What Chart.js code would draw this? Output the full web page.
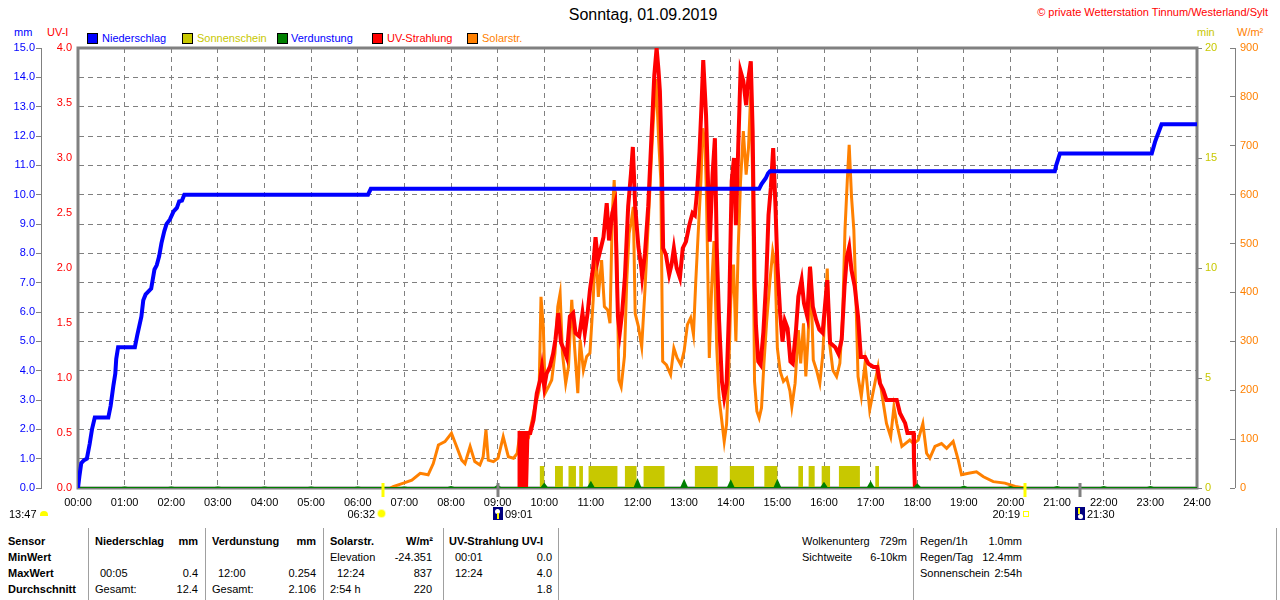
<!DOCTYPE html>
<html>
<head>
<meta charset="utf-8">
<script src="https://cdn.jsdelivr.net/npm/chart.js@4.4.1/dist/chart.umd.min.js"></script>
<style>
  html, body { margin: 0; padding: 0; background: #fff; }
  body { width: 1280px; height: 600px; position: relative; overflow: hidden;
         font-family: 'Liberation Sans', Arial, sans-serif; font-size: 11px; color: #000; }
  #wrap { position: absolute; left: 0; top: 0; width: 1280px; height: 520px; }
  .t { position: absolute; white-space: nowrap; line-height: 14px; }
  .b { font-weight: bold; }
  .sq { position: absolute; top: 33px; width: 9px; height: 9px; border: 1px solid #000; }
  .vl { position: absolute; top: 528px; height: 72px; width: 1px; background: #a0a0a0; }
  .ic { position: absolute; }
</style>
</head>
<body>
<!-- Kopfzeile -->
<div class="t" style="left:0;width:1286px;text-align:center;top:6px;font-size:16px;line-height:18px;">Sonntag, 01.09.2019</div>
<div class="t" style="right:12px;top:5px;color:#f00;">© private Wetterstation Tinnum/Westerland/Sylt</div>

<!-- Achsentitel -->
<div class="t" style="left:14px;top:25px;color:#00f;">mm</div>
<div class="t" style="left:47px;top:25px;color:#f00;">UV-I</div>
<div class="t" style="left:1197px;top:25px;color:#c8c800;">min</div>
<div class="t" style="left:1237px;top:25px;color:#ff8000;">W/m²</div>

<!-- Legende -->
<div class="sq" style="left:87px;background:#00f;"></div>
<div class="t" style="left:102px;top:31px;color:#00f;">Niederschlag</div>
<div class="sq" style="left:182px;background:#c8c800;"></div>
<div class="t" style="left:197px;top:31px;color:#c8c800;">Sonnenschein</div>
<div class="sq" style="left:277px;background:#008000;"></div>
<div class="t" style="left:291px;top:31px;color:#00f;">Verdunstung</div>
<div class="sq" style="left:372px;background:#f00;"></div>
<div class="t" style="left:387px;top:31px;color:#f00;">UV-Strahlung</div>
<div class="sq" style="left:467px;background:#ff8000;"></div>
<div class="t" style="left:482px;top:31px;color:#ff8000;">Solarstr.</div>

<div id="wrap"><canvas id="wetter" width="1280" height="520"></canvas></div>

<!-- Sonne / Mond unter der Zeitachse -->
<div class="t" style="left:9px;top:507px;">13:47</div>
<div class="ic" style="left:40px;top:511px;width:8px;height:5px;background:#ffff00;border-radius:4px 4px 0 0;"></div>
<div class="t" style="right:905px;top:507px;">06:32</div>
<div class="ic" style="left:378px;top:510px;width:7px;height:7px;background:#ffff00;border-radius:50%;box-shadow:0 0 0 1px #ffffa0;"></div>
<div class="ic" style="left:493px;top:507px;width:10px;height:13px;background:#000080;"><div style="position:absolute;left:2px;top:2px;width:5px;height:5px;background:#fff;border-radius:50%;"></div><div style="position:absolute;left:4px;top:6px;width:2px;height:6px;background:#ffff00;"></div></div>
<div class="t" style="left:505px;top:507px;">09:01</div>
<div class="t" style="right:260px;top:507px;">20:19</div>
<div class="ic" style="left:1023px;top:511px;width:4px;height:4px;border:1px solid #ffff00;"></div>
<div class="ic" style="left:1075px;top:507px;width:10px;height:13px;background:#000080;"><div style="position:absolute;left:3px;top:1px;width:2px;height:6px;background:#ffff00;"></div><div style="position:absolute;left:3px;top:7px;width:5px;height:5px;background:#fff;border-radius:50%;"></div></div>
<div class="t" style="left:1087px;top:507px;">21:30</div>

<!-- Tabelle -->
<div class="vl" style="left:88px;"></div>
<div class="vl" style="left:205px;"></div>
<div class="vl" style="left:323px;"></div>
<div class="vl" style="left:443px;"></div>
<div class="vl" style="left:558px;"></div>
<div class="vl" style="left:913px;"></div>
<div class="vl" style="left:1276px;"></div>

<div class="t b" style="left:8px;top:534px;">Sensor</div>
<div class="t b" style="left:8px;top:550px;">MinWert</div>
<div class="t b" style="left:8px;top:566px;">MaxWert</div>
<div class="t b" style="left:8px;top:582px;">Durchschnitt</div>

<div class="t b" style="left:95px;top:534px;">Niederschlag</div>
<div class="t b" style="right:1082px;top:534px;">mm</div>
<div class="t" style="left:100px;top:566px;">00:05</div>
<div class="t" style="right:1082px;top:566px;">0.4</div>
<div class="t" style="left:95px;top:582px;">Gesamt:</div>
<div class="t" style="right:1082px;top:582px;">12.4</div>

<div class="t b" style="left:212px;top:534px;">Verdunstung</div>
<div class="t b" style="right:964px;top:534px;">mm</div>
<div class="t" style="left:218px;top:566px;">12:00</div>
<div class="t" style="right:964px;top:566px;">0.254</div>
<div class="t" style="left:212px;top:582px;">Gesamt:</div>
<div class="t" style="right:964px;top:582px;">2.106</div>

<div class="t b" style="left:330px;top:534px;">Solarstr.</div>
<div class="t b" style="right:847px;top:534px;">W/m²</div>
<div class="t" style="left:330px;top:550px;">Elevation</div>
<div class="t" style="right:848px;top:550px;">-24.351</div>
<div class="t" style="left:337px;top:566px;">12:24</div>
<div class="t" style="right:848px;top:566px;">837</div>
<div class="t" style="left:330px;top:582px;">2:54 h</div>
<div class="t" style="right:848px;top:582px;">220</div>

<div class="t b" style="left:449px;top:534px;">UV-Strahlung UV-I</div>
<div class="t" style="left:455px;top:550px;">00:01</div>
<div class="t" style="right:728px;top:550px;">0.0</div>
<div class="t" style="left:455px;top:566px;">12:24</div>
<div class="t" style="right:728px;top:566px;">4.0</div>
<div class="t" style="right:728px;top:582px;">1.8</div>

<div class="t" style="left:802px;top:534px;">Wolkenunterg</div>
<div class="t" style="right:373px;top:534px;">729m</div>
<div class="t" style="left:802px;top:550px;">Sichtweite</div>
<div class="t" style="right:373px;top:550px;">6-10km</div>
<div class="t" style="left:920px;top:534px;">Regen/1h</div>
<div class="t" style="right:258px;top:534px;">1.0mm</div>
<div class="t" style="left:920px;top:550px;">Regen/Tag</div>
<div class="t" style="right:258px;top:550px;">12.4mm</div>
<div class="t" style="left:920px;top:566px;">Sonnenschein</div>
<div class="t" style="right:258px;top:566px;">2:54h</div>

<script>
// ── Zeitachse (Stunden 0..24) ──
const hourLabels = ['00:00','01:00','02:00','03:00','04:00','05:00','06:00','07:00','08:00',
  '09:00','10:00','11:00','12:00','13:00','14:00','15:00','16:00','17:00','18:00','19:00',
  '20:00','21:00','22:00','23:00','24:00'];

// ── Niederschlag, Summe in mm ──
const rainTimes  = [0, 0.03, 0.07, 0.13, 0.19, 0.25, 0.30, 0.36, 0.65, 0.70, 0.76, 0.80, 0.82, 0.86,
  1.22, 1.27, 1.36, 1.40, 1.45, 1.57, 1.64, 1.69, 1.74, 1.79, 1.85, 1.90, 1.97, 2.05, 2.12, 2.17,
  2.23, 2.28, 6.22, 6.28, 14.61, 14.66, 14.75, 14.80, 14.84, 20.95, 20.98, 21.06, 23.03, 23.10,
  23.17, 23.24, 24];
const rainValues = [0, 0.4, 0.85, 0.95, 1.0, 1.5, 2.0, 2.4, 2.4, 2.8, 3.5, 3.9, 4.4, 4.8,
  4.8, 5.2, 5.85, 6.4, 6.6, 6.8, 7.45, 7.6, 7.9, 8.35, 8.75, 9.0, 9.15, 9.43, 9.55, 9.77,
  9.8, 10.0, 10.0, 10.2, 10.2, 10.36, 10.56, 10.73, 10.8, 10.8, 11.0, 11.4, 11.4, 11.8,
  12.1, 12.4, 12.4];

// ── UV-Strahlung, UV-Index ──
const uvTimes  = [9.46, 9.47, 9.52, 9.53, 9.56, 9.57, 9.60, 9.61, 9.63, 9.64, 9.70, 9.77, 9.84,
  9.91, 9.95, 10.00, 10.05, 10.12, 10.19, 10.24, 10.30, 10.36, 10.43, 10.48, 10.55, 10.62, 10.67,
  10.75, 10.82, 10.87, 10.93, 10.98, 11.05, 11.10, 11.15, 11.22, 11.27, 11.34, 11.39, 11.46, 11.52,
  11.58, 11.62, 11.67, 11.73, 11.80, 11.86, 11.90, 11.95, 12.02, 12.08, 12.10, 12.16, 12.23, 12.30,
  12.36, 12.41, 12.45, 12.48, 12.52, 12.55, 12.61, 12.68, 12.73, 12.78, 12.84, 12.91, 12.97, 13.04,
  13.11, 13.18, 13.23, 13.28, 13.33, 13.37, 13.41, 13.47, 13.52, 13.55, 13.61, 13.66, 13.70, 13.75,
  13.81, 13.86, 13.91, 13.97, 14.02, 14.07, 14.11, 14.16, 14.21, 14.27, 14.33, 14.38, 14.43, 14.47,
  14.51, 14.54, 14.59, 14.64, 14.70, 14.76, 14.81, 14.86, 14.91, 14.96, 15.00, 15.06, 15.11, 15.16,
  15.22, 15.28, 15.33, 15.40, 15.45, 15.52, 15.57, 15.64, 15.70, 15.76, 15.83, 15.90, 15.97, 16.02,
  16.07, 16.13, 16.24, 16.31, 16.38, 16.44, 16.49, 16.54, 16.59, 16.66, 16.73, 16.79, 16.88, 16.95,
  17.06, 17.14, 17.20, 17.27, 17.34, 17.56, 17.63, 17.74, 17.79, 17.92, 17.93, 17.95, 18.0];
const uvValues = [0, 0.5, 0.5, 0, 0, 0.5, 0.5, 0, 0, 0.5, 0.5, 0.62, 0.86,
  0.98, 1.10, 0.92, 1.04, 1.10, 1.22, 1.35, 1.59, 1.32, 1.25, 1.19, 1.56, 1.59, 1.41,
  1.38, 1.59, 1.41, 1.59, 1.80, 2.01, 2.28, 2.07, 2.19, 2.28, 2.59, 2.25, 2.50, 2.59,
  1.56, 1.41, 1.59, 1.92, 2.56, 2.86, 3.10, 2.56, 2.19, 2.01, 1.92, 2.13, 2.56, 3.20,
  3.75, 4.0, 3.80, 3.61, 3.00, 2.18, 2.12, 1.94, 2.03, 2.18, 2.00, 1.91, 2.18, 2.24,
  2.39, 2.50, 2.48, 2.70, 3.06, 3.45, 3.89, 3.39, 2.67, 2.24, 2.85, 3.18, 2.18, 1.52,
  0.97, 0.82, 0.94, 1.70, 2.79, 3.00, 2.39, 3.09, 3.79, 3.70, 3.48, 3.73, 3.88, 3.24,
  1.88, 1.48, 1.15, 1.12, 1.42, 1.88, 2.48, 2.73, 3.09, 2.55, 2.03, 1.58, 1.33, 1.52,
  1.45, 1.15, 1.13, 1.44, 1.74, 1.89, 1.68, 1.56, 2.01, 1.65, 1.53, 1.44, 1.41, 1.65,
  1.89, 1.32, 1.28, 1.22, 1.35, 1.83, 2.10, 2.19, 1.98, 1.83, 1.56, 1.19, 1.19, 1.13,
  1.10, 1.10, 0.95, 0.89, 0.80, 0.80, 0.68, 0.59, 0.50, 0.50, 0.25, 0, 0];

// ── Solarstrahlung, W/m² ──
const solarTimes  = [6.70, 6.76, 6.98, 7.16, 7.34, 7.51, 7.62, 7.73, 7.87, 8.01, 8.12, 8.23, 8.30,
  8.41, 8.51, 8.62, 8.69, 8.75, 8.80, 8.91, 9.01, 9.12, 9.23, 9.34, 9.42, 9.48, 9.62, 9.66, 9.80,
  9.89, 9.93, 9.98, 10.02, 10.09, 10.16, 10.23, 10.29, 10.34, 10.39, 10.46, 10.52, 10.59, 10.65,
  10.72, 10.77, 10.84, 10.91, 10.98, 11.05, 11.10, 11.16, 11.23, 11.29, 11.36, 11.41, 11.46, 11.50,
  11.55, 11.60, 11.65, 11.72, 11.77, 11.82, 11.86, 11.91, 11.95, 12.02, 12.09, 12.16, 12.23, 12.30,
  12.35, 12.40, 12.45, 12.50, 12.54, 12.62, 12.71, 12.78, 12.85, 12.93, 13.00, 13.07, 13.14, 13.20,
  13.25, 13.30, 13.36, 13.40, 13.45, 13.48, 13.54, 13.59, 13.64, 13.70, 13.75, 13.81, 13.86, 13.91,
  13.95, 14.00, 14.06, 14.11, 14.16, 14.21, 14.27, 14.33, 14.38, 14.43, 14.47, 14.51, 14.56, 14.61,
  14.66, 14.71, 14.77, 14.84, 14.90, 14.95, 15.00, 15.06, 15.13, 15.20, 15.27, 15.31, 15.38, 15.45,
  15.50, 15.56, 15.61, 15.66, 15.71, 15.77, 15.84, 15.91, 15.97, 16.02, 16.07, 16.12, 16.19, 16.27,
  16.34, 16.40, 16.45, 16.50, 16.54, 16.59, 16.64, 16.68, 16.73, 16.80, 16.88, 16.98, 17.09, 17.16,
  17.25, 17.34, 17.43, 17.50, 17.56, 17.67, 17.84, 17.92, 18.02, 18.12, 18.20, 18.27, 18.38, 18.52,
  18.63, 18.77, 18.88, 18.95, 19.10, 19.27, 19.42, 19.63, 19.88, 20.10, 20.30];
const solarValues = [0, 3, 10, 16, 30, 27, 50, 88, 95, 112, 85, 57, 50,
  85, 54, 47, 64, 119, 57, 54, 61, 105, 64, 61, 71, 112, 98, 102, 166,
  200, 391, 330, 194, 207, 221, 276, 371, 398, 276, 214, 248, 385, 289,
  194, 303, 241, 269, 276, 385, 500, 391, 466, 371, 364, 337, 562, 630,
  507, 221, 207, 269, 425, 521, 541, 575, 357, 330, 289, 405, 541, 678,
  770, 837, 719, 630, 259, 252, 232, 286, 266, 252, 280, 334, 348, 314,
  423, 518, 627, 736, 702, 593, 266, 409, 505, 286, 184, 136, 95, 130,
  218, 382, 457, 300, 491, 627, 730, 641, 695, 811, 627, 218, 157, 143,
  164, 252, 341, 423, 484, 457, 286, 239, 218, 225, 198, 166, 214, 323,
  255, 337, 228, 309, 453, 262, 241, 214, 269, 357, 449, 296, 241, 228,
  255, 350, 528, 630, 702, 596, 528, 405, 228, 187, 255, 160, 214, 248,
  187, 132, 105, 166, 132, 85, 98, 91, 98, 132, 71, 61, 85, 91,
  81, 95, 57, 27, 30, 33, 23, 13, 10, 3, 0];

// ── Sonnenschein, Intervalle (Stunden) mit Sonne ──
const sunStart = [9.90, 10.23, 10.52, 10.75, 10.95, 11.73, 12.13, 13.23, 13.98, 14.72, 15.45, 15.67, 15.95, 16.32, 17.10];
const sunEnd   = [10.00, 10.40, 10.68, 10.83, 11.57, 11.98, 12.58, 13.72, 14.50, 15.00, 15.55, 15.80, 16.13, 16.77, 17.18];
const sunMinutes = 1;

// ── Verdunstung pro Stunde, mm ──
const evapHours  = [0, 1, 2, 3, 4, 5, 6, 7, 8, 9, 10, 11, 12, 13, 14, 15, 16, 17, 18, 19, 20, 21, 22, 23];
const evapValues = [0.01, 0.02, 0.02, 0.02, 0.02, 0.02, 0.02, 0.02, 0.03, 0.08, 0.13, 0.18,
  0.254, 0.23, 0.22, 0.23, 0.15, 0.18, 0.11, 0.05, 0.03, 0.03, 0.03, 0.03];

// ── Auf-/Untergang Sonne und Mond ──
const markerTimes  = [6.533, 9.017, 20.317, 21.5];
const markerColors = ['#ffff00', '#808080', '#ffff00', '#808080'];

const FONT = { family: "'Liberation Sans', Arial, sans-serif", size: 11 };
const GRID = '#808080';

const pts = (xs, ys) => xs.map((x, i) => ({ x, y: ys[i] }));

const sunPts = sunStart.flatMap((s, i) => [
  { x: s, y: 0 }, { x: s, y: sunMinutes }, { x: sunEnd[i], y: sunMinutes }, { x: sunEnd[i], y: 0 }
]);

const evapPts = [];
evapHours.forEach((h, i) => {
  if (h > 0) evapPts.push({ x: h - 0.065, y: 0 });
  evapPts.push({ x: h, y: evapValues[i] });
  evapPts.push({ x: h + 0.065, y: 0 });
});
evapPts.push({ x: 24, y: 0 });

// Rahmen, W/m²-Achslinie und Markierungen unter der Zeitachse
const framePlugin = {
  id: 'frame',
  beforeDatasetsDraw(chart) {
    const { ctx, chartArea: a } = chart;
    ctx.save();
    ctx.strokeStyle = GRID;
    ctx.lineWidth = 3;
    ctx.strokeRect(a.left, a.top, a.right - a.left, a.bottom - a.top);
    ctx.restore();
  },
  afterDraw(chart) {
    const { ctx, scales, chartArea: a } = chart;
    const w = scales.yW;
    ctx.save();
    ctx.strokeStyle = GRID;
    ctx.lineWidth = 1;
    ctx.beginPath();
    ctx.moveTo(w.left + 5.5, w.top);
    ctx.lineTo(w.left + 5.5, w.bottom);
    ctx.stroke();
    markerTimes.forEach((t, i) => {
      const x = Math.round(scales.x.getPixelForValue(t));
      ctx.strokeStyle = markerColors[i];
      ctx.lineWidth = 3;
      ctx.beginPath();
      ctx.moveTo(x, a.bottom - 5);
      ctx.lineTo(x, a.bottom + 9);
      ctx.stroke();
    });
    ctx.restore();
  }
};

new Chart(document.getElementById('wetter').getContext('2d'), {
  type: 'line',
  data: {
    datasets: [
      { label: 'Niederschlag', data: pts(rainTimes, rainValues), yAxisID: 'yMm',
        borderColor: '#0000ff', borderWidth: 4, borderJoinStyle: 'miter', order: 0 },
      { label: 'Verdunstung', data: evapPts, yAxisID: 'yMm',
        borderColor: '#008000', backgroundColor: '#008000', borderWidth: 2, fill: 'origin', order: 1 },
      { label: 'UV-Strahlung', data: pts(uvTimes, uvValues), yAxisID: 'yUv',
        borderColor: '#ff0000', borderWidth: 4, order: 2 },
      { label: 'Solarstr.', data: pts(solarTimes, solarValues), yAxisID: 'yW',
        borderColor: '#ff8000', borderWidth: 3, order: 3 },
      { label: 'Sonnenschein', data: sunPts, yAxisID: 'yMin',
        borderColor: '#c8c800', backgroundColor: '#c8c800', borderWidth: 0, fill: 'origin', order: 4 },
    ],
  },
  options: {
    responsive: false,
    animation: false,
    devicePixelRatio: 1,
    layout: { padding: { top: 48, left: 0, right: 0, bottom: 0 } },
    plugins: { legend: { display: false }, tooltip: { enabled: false } },
    elements: { point: { radius: 0 }, line: { tension: 0 } },
    scales: {
      x: {
        type: 'linear', min: 0, max: 24,
        ticks: { stepSize: 1, autoSkip: false, maxRotation: 0, color: '#000', font: FONT, padding: 8,
                 callback: v => hourLabels[v] },
        grid: { color: GRID, drawTicks: false },
        border: { display: false, dash: [5, 4] },
        afterFit: s => { s.height = 32; },
      },
      yMm: {
        position: 'left', weight: 2, min: 0, max: 15,
        ticks: { stepSize: 1, color: '#0000ff', font: FONT, padding: 1, callback: v => v.toFixed(1) },
        grid: { color: GRID, tickColor: GRID, tickLength: 5, tickBorderDash: [] },
        border: { display: true, color: GRID, dash: [5, 4] },
        afterFit: s => { s.width = 41; },
      },
      yUv: {
        position: 'left', weight: 1, min: 0, max: 4,
        ticks: { stepSize: 0.5, color: '#ff0000', font: FONT, padding: 2, callback: v => v.toFixed(1) },
        grid: { drawOnChartArea: false, tickColor: 'rgba(0,0,0,0)', tickLength: 4 },
        border: { display: false },
        afterFit: s => { s.width = 37; },
      },
      yMin: {
        position: 'right', weight: 1, min: 0, max: 20,
        ticks: { stepSize: 5, color: '#c8c800', font: FONT, padding: 3 },
        grid: { drawOnChartArea: false, tickColor: GRID, tickLength: 5 },
        border: { display: false },
        afterFit: s => { s.width = 33; },
      },
      yW: {
        position: 'right', weight: 2, min: 0, max: 900,
        ticks: { stepSize: 100, color: '#ff8000', font: FONT, padding: 5 },
        grid: { drawOnChartArea: false, tickColor: GRID, tickLength: 5 },
        border: { display: false },
        afterFit: s => { s.width = 50; },
      },
    },
  },
  plugins: [framePlugin],
});
</script>
</body>
</html>
